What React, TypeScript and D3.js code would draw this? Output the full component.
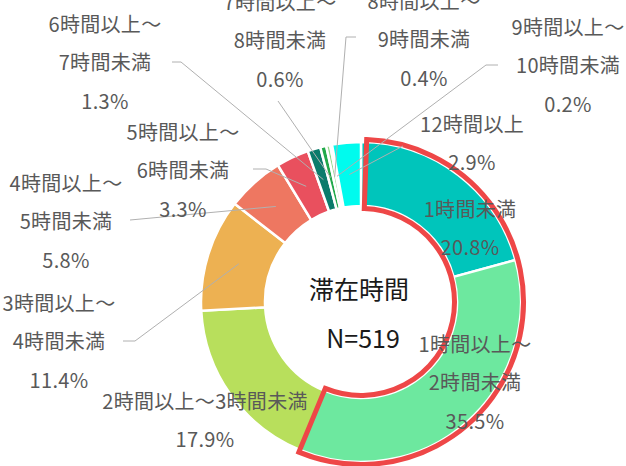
import React from 'react';
import * as d3 from 'd3';

const categories = [
  '1時間未満',
  '1時間以上～2時間未満',
  '2時間以上～3時間未満',
  '3時間以上～4時間未満',
  '4時間以上～5時間未満',
  '5時間以上～6時間未満',
  '6時間以上～7時間未満',
  '7時間以上～8時間未満',
  '8時間以上～9時間未満',
  '9時間以上～10時間未満',
  '12時間以上',
];
const values = [20.8, 35.5, 17.9, 11.4, 5.8, 3.3, 1.3, 0.6, 0.4, 0.2, 2.9];
const labelLines = [
  ['1時間未満'],
  ['1時間以上～', '2時間未満'],
  ['2時間以上～3時間未満'],
  ['3時間以上～', '4時間未満'],
  ['4時間以上～', '5時間未満'],
  ['5時間以上～', '6時間未満'],
  ['6時間以上～', '7時間未満'],
  ['7時間以上～', '8時間未満'],
  ['8時間以上～', '9時間未満'],
  ['9時間以上～', '10時間未満'],
  ['12時間以上'],
];
const colors = [
  '#00C5BB', '#6DE89F', '#B8DF5C', '#EDB152', '#EE7761', '#E9505E',
  '#0B7B6B', '#22A94A', '#92D88C', '#D3EFC0', '#00FBEE',
];
const title = '滞在時間';
const nLabel = 'N=519';

// label layout (center x, first line center y), leader start points
const labelLayout = [
  { x: 470, y: 208, leader: null },
  { x: 475, y: 343, leader: null },
  { x: 205, y: 400, leader: null },
  { x: 59, y: 302, leader: [[123, 341], [135, 341]] },
  { x: 66, y: 182, leader: [[130, 220]] },
  { x: 183, y: 131, leader: [[253, 169], [266, 169]] },
  { x: 105, y: 23, leader: [[172, 62], [181, 62]] },
  { x: 280, y: 1, leader: [[278, 101]] },
  { x: 424, y: 0, leader: [[356, 37], [346, 37]] },
  { x: 568, y: 26, leader: [[498, 65], [486, 65]] },
  { x: 472, y: 123, leader: [[403, 146]] },
];

const W = 626;
const H = 466;
const cx = 361;
const cy = 302;
const rIn = 96;
const rOut = 160;
const lineH = 38.5;

export default function App() {
  const pie = d3.pie<number>().value((d) => d).sort(null).startAngle(0).endAngle(Math.PI * 2);
  const arcs = pie(values);
  const arcGen = d3.arc<d3.PieArcDatum<number>>().innerRadius(rIn).outerRadius(rOut);
  const hlArc = d3.arc()({
    innerRadius: 93.5,
    outerRadius: 162.5,
    startAngle: arcs[0].startAngle + 0.035,
    endAngle: arcs[1].endAngle,
  } as any);
  const midArc = d3.arc<d3.PieArcDatum<number>>().innerRadius(rIn).outerRadius(rOut);
  const lineGen = d3.line();
  const font = '"Noto Sans CJK JP", "Noto Sans", sans-serif';

  return (
    <svg width={W} height={H} style={{ position: 'absolute', left: 0, top: 0 }} fontFamily={font}>
      <rect width={W} height={H} fill="#fff" />
      <g transform={`translate(${cx},${cy})`}>
        {arcs.map((a, i) => (
          <path key={i} d={arcGen(a) || ''} fill={colors[i]} stroke="#fff" strokeWidth={2.5} />
        ))}
        <path d={hlArc || ''} fill="none" stroke="#EE4747" strokeWidth={5} strokeLinejoin="miter" />
      </g>
      {arcs.map((a, i) => {
        const lay = labelLayout[i];
        if (!lay.leader) return null;
        const c = midArc.centroid(a);
        const pts: [number, number][] = [
          ...(lay.leader as [number, number][]),
          [c[0] + cx, c[1] + cy],
        ];
        return <path key={'l' + i} d={lineGen(pts) || ''} fill="none" stroke="#B0B0B0" strokeWidth={1} />;
      })}
      {arcs.map((a, i) => {
        const lay = labelLayout[i];
        const lines = [...labelLines[i], `${values[i].toFixed(1)}%`];
        return (
          <g key={'t' + i}>
            {lines.map((t, j) => (
              <text
                key={j}
                x={lay.x}
                y={lay.y + j * lineH}
                textAnchor="middle"
                dominantBaseline="central"
                fontSize={20}
                fill="#595959"
                letterSpacing={0.3}
              >
                {t}
              </text>
            ))}
          </g>
        );
      })}
      <text x={359} y={288} textAnchor="middle" dominantBaseline="central" fontSize={25} fill="#1a1a1a">
        {title}
      </text>
      <text x={363} y={337} textAnchor="middle" dominantBaseline="central" fontSize={25} fill="#1a1a1a">
        {nLabel}
      </text>
    </svg>
  );
}
